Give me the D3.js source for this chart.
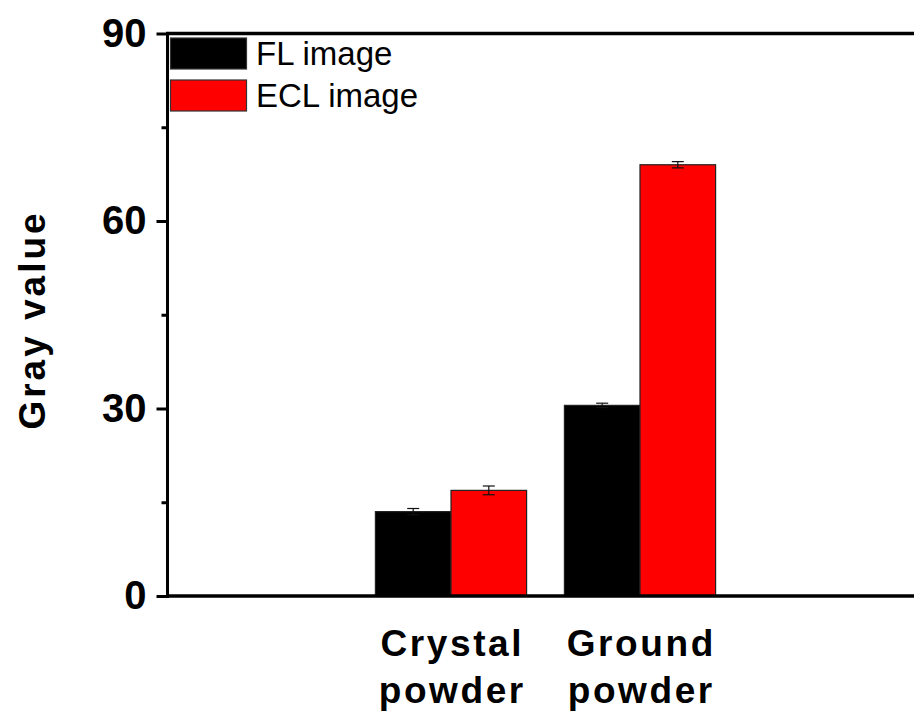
<!DOCTYPE html>
<html>
<head>
<meta charset="utf-8">
<script src="https://cdn.jsdelivr.net/npm/d3@7"></script>
<style>
  html, body { margin: 0; padding: 0; background: #fff; }
  svg { display: block; }
  text { font-family: "Liberation Sans", Arial, sans-serif; }
</style>
</head>
<body>
<svg id="chart" width="914" height="720"></svg>
<script>
// ---- data ----
const categories = ["Crystal powder", "Ground powder"];
const categoryLines = [["Crystal", "powder"], ["Ground", "powder"]];
const categoryPos = [2, 3];
const seriesNames = ["FL image", "ECL image"];
const seriesColors = ["#000000", "#ff0000"];
const flValues = [13.5, 30.5];
const flErrors = [0.5, 0.35];
const eclValues = [16.9, 69.0];
const eclErrors = [0.7, 0.5];
const yTicks = [0, 30, 60, 90];
const yMinorTicks = [15, 45, 75];

const svg = d3.select("#chart");
const x0 = 167.5, yBottom = 596, yTop = 33.5;
const x = d3.scaleLinear().domain([0.5, 4.5]).range([x0, x0 + 4 * 189]);
const y = d3.scaleLinear().domain([0, 90]).range([yBottom, yTop]);
const barW = x(1) - x(0.6); // ~75.6 px

const series = [
  { name: seriesNames[0], color: seriesColors[0], values: flValues, errors: flErrors, off: -1 },
  { name: seriesNames[1], color: seriesColors[1], values: eclValues, errors: eclErrors, off: 0 }
];

// bars
series.forEach(s => {
  const g = svg.append("g");
  g.selectAll("rect").data(s.values).enter().append("rect")
    .attr("x", (d, i) => x(categoryPos[i]) + s.off * barW)
    .attr("y", d => y(d))
    .attr("width", barW)
    .attr("height", d => yBottom - y(d))
    .attr("fill", s.color)
    .attr("stroke", "#222")
    .attr("stroke-width", 1.2);
  // error bars
  s.values.forEach((v, i) => {
    const cx = x(categoryPos[i]) + s.off * barW + barW / 2;
    const e = s.errors[i];
    const eg = svg.append("g").attr("stroke", "#111").attr("stroke-width", 1.2);
    eg.append("line").attr("x1", cx).attr("x2", cx).attr("y1", y(v + e)).attr("y2", y(v - e));
    eg.append("line").attr("x1", cx - 6).attr("x2", cx + 6).attr("y1", y(v + e)).attr("y2", y(v + e));
    eg.append("line").attr("x1", cx - 6).attr("x2", cx + 6).attr("y1", y(v - e)).attr("y2", y(v - e));
  });
});

// y axis
const yAxis = d3.axisLeft(y).tickValues(yTicks).tickSize(11).tickPadding(10);
const ya = svg.append("g").attr("transform", `translate(${x0},0)`).call(yAxis);
ya.select(".domain").remove();
ya.selectAll(".tick line").attr("stroke", "#000").attr("stroke-width", 3);
ya.selectAll(".tick text").attr("font-size", 40).attr("font-weight", "bold").attr("fill", "#000")
  .attr("font-family", "'Liberation Sans', Arial, sans-serif");
const yMinor = d3.axisLeft(y).tickValues(yMinorTicks).tickSize(6).tickFormat("");
const ym = svg.append("g").attr("transform", `translate(${x0},0)`).call(yMinor);
ym.select(".domain").remove();
ym.selectAll(".tick line").attr("stroke", "#000").attr("stroke-width", 3);

// frame lines
svg.append("line").attr("x1", x0).attr("x2", x0).attr("y1", yTop - 1.5).attr("y2", yBottom + 2)
  .attr("stroke", "#000").attr("stroke-width", 3);
svg.append("line").attr("x1", x0 - 1.5).attr("x2", 914).attr("y1", yBottom).attr("y2", yBottom)
  .attr("stroke", "#000").attr("stroke-width", 3.5);
svg.append("line").attr("x1", x0 - 1.5).attr("x2", 914).attr("y1", yTop).attr("y2", yTop)
  .attr("stroke", "#000").attr("stroke-width", 3.5);

// x category labels
categoryLines.forEach((lines, i) => {
  const t = svg.append("text")
    .attr("x", x(categoryPos[i]))
    .attr("y", 656)
    .attr("text-anchor", "middle")
    .attr("font-size", 37)
    .attr("font-weight", "bold")
    .attr("letter-spacing", 2.6)
    .attr("fill", "#000");
  lines.forEach((ln, j) => {
    t.append("tspan").attr("x", x(categoryPos[i]) + 1.3).attr("dy", j === 0 ? 0 : 47).text(ln);
  });
});

// y title
svg.append("text")
  .attr("transform", `translate(45,320) rotate(-90)`)
  .attr("text-anchor", "middle")
  .attr("font-size", 37)
  .attr("font-weight", "bold")
  .attr("letter-spacing", 3)
  .attr("fill", "#000")
  .text("Gray value");

// legend
series.forEach((s, i) => {
  const ly = 38 + i * 42;
  svg.append("rect").attr("x", 170.5).attr("y", ly).attr("width", 76).attr("height", 31)
    .attr("fill", s.color).attr("stroke", "#333").attr("stroke-width", 1.2);
  svg.append("text").attr("x", 256).attr("y", ly + 15.5).attr("dy", "0.36em")
    .attr("font-size", 33).attr("fill", "#000").text(s.name);
});
</script>
</body>
</html>
